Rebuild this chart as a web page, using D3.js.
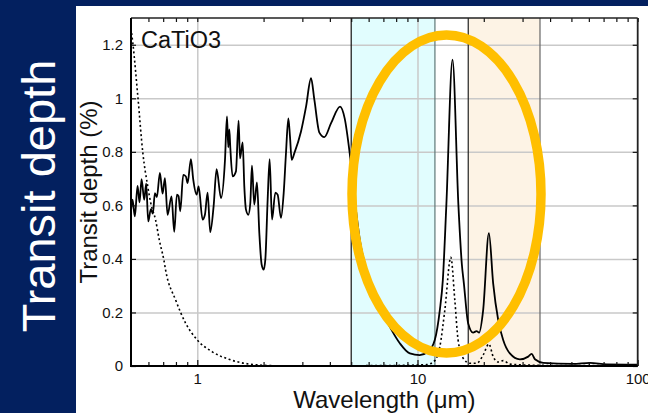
<!DOCTYPE html>
<html><head><meta charset="utf-8">
<script src="https://cdn.jsdelivr.net/npm/d3@7"></script>
<style>
html,body{margin:0;padding:0;background:#03205f;}
svg{display:block;font-family:"Liberation Sans",Arial,Helvetica,sans-serif;}
</style></head>
<body>
<svg id="c" width="648" height="413"></svg>
<script>
// ---- data ----
const solidWl = [0.50,0.508,0.5205,0.5355,0.5467,0.5583,0.5741,0.5862,0.5986,0.6155,0.6285,0.6418,0.6554,0.6764,0.6958,0.7129,0.7328,0.7639,0.7857,0.808,0.8222,0.8367,0.8635,0.8878,0.9035,0.9355,0.9587,0.9927,1.0137,1.057,1.083,1.114,1.145,1.186,1.224,1.281,1.336,1.364,1.383,1.398,1.412,1.447,1.498,1.540,1.563,1.607,1.635,1.664,1.705,1.741,1.771,1.815,1.866,1.913,1.960,2.002,2.037,2.087,2.131,2.184,2.262,2.317,2.399,2.468,2.528,2.591,2.636,2.683,2.759,2.958,3.118,3.285,3.402,3.585,3.777,4.050,4.450,4.67,4.92,5.19,5.47,6.07,6.74,7.48,8.31,9.23,10.24,11.17,11.98,12.63,13.03,13.52,14.42,15.34,15.90,16.24,16.98,17.89,18.54,19.05,19.87,21.10,22.06,23.25,24.50,26.27,29.17,31.82,32.98,34.15,37.24,50.8,60.7,72.3,100];
const solidVal = [0.578,0.621,0.559,0.673,0.611,0.698,0.621,0.681,0.540,0.586,0.569,0.646,0.631,0.721,0.644,0.702,0.565,0.634,0.501,0.640,0.634,0.578,0.714,0.708,0.683,0.773,0.696,0.640,0.671,0.547,0.565,0.648,0.500,0.596,0.735,0.627,0.770,0.932,0.817,0.884,0.817,0.708,0.727,0.917,0.776,0.835,0.671,0.584,0.565,0.609,0.748,0.603,0.686,0.497,0.379,0.360,0.398,0.621,0.773,0.547,0.648,0.640,0.553,0.646,0.795,0.925,0.857,0.770,0.795,0.876,0.969,1.075,0.994,0.872,0.855,0.907,0.969,0.925,0.796,0.62,0.471,0.321,0.222,0.147,0.085,0.047,0.041,0.053,0.097,0.209,0.32,0.60,1.144,0.60,0.38,0.309,0.16,0.125,0.13,0.125,0.209,0.496,0.309,0.172,0.097,0.047,0.025,0.035,0.045,0.025,0.012,0.008,0.012,0.006,0.005];

const dottedWl = [0.5,0.5097,0.537,0.566,0.596,0.615,0.6464,0.672,0.705,0.72,0.797,0.885,1.0,1.17,1.392,1.716,2.27,3.0,5.0,8.0,11.0,11.98,12.63,13.31,14.17,14.77,15.29,16.12,17.29,18.54,19.87,21.10,22.06,23.25,24.50,26.27,30,40,100];
const dottedVal = [1.26,1.206,1.007,0.795,0.67,0.608,0.546,0.471,0.396,0.353,0.247,0.160,0.097,0.053,0.025,0.0075,0.001,0.0005,0.001,0.002,0.005,0.02,0.072,0.209,0.406,0.247,0.097,0.029,0.01,0.01,0.041,0.082,0.035,0.015,0.02,0.007,0.004,0.002,0.001];

const bands = [{from:5, to:12, fill:"#e1fdfe", edgeL:"#111", edgeR:"#5d7777"},
               {from:17, to:36, fill:"#fdf3e5", edgeL:"#222", edgeR:"#666"}];

const yTicks = [0,0.2,0.4,0.6,0.8,1,1.2];
const yTickLabels = ["0","0.2","0.4","0.6","0.8","1","1.2"];
const xMajor = [1,10,100];
const xMajorLabels = ["1","10","100"];
const xMinor = [0.6,0.7,0.8,0.9,2,3,4,5,6,7,8,9,20,30,40,50,60,70,80,90];

const title = "CaTiO3";
const xLabel = "Wavelength (\u03bcm)";
const yLabel = "Transit depth (%)";
const bigLabel = "Transit depth";

// ---- layout ----
const svg = d3.select("#c");
const L=131, R=637.7, T=18, B=366;
const x = d3.scaleLog().domain([0.5,100]).range([L,R]);
const y = d3.scaleLinear().domain([0,1.3]).range([B,T]);

svg.append("rect").attr("x",0).attr("y",0).attr("width",648).attr("height",413).attr("fill","#03205f");
svg.append("rect").attr("x",76).attr("y",6).attr("width",572).attr("height",407).attr("fill","#fff");

// big white label
svg.append("text").attr("transform","translate(55,196) rotate(-90)")
  .attr("text-anchor","middle").attr("fill","#fff").attr("font-size",47).text(bigLabel);

// bands
bands.forEach(b=>{
  svg.append("rect").attr("x",x(b.from)).attr("y",T).attr("width",x(b.to)-x(b.from)).attr("height",B-T).attr("fill",b.fill);
});

// grid
const gy = svg.append("g").attr("transform",`translate(${L},0)`)
  .call(d3.axisLeft(y).tickValues(yTicks.slice(1)).tickSize(-(R-L)).tickFormat(""));
gy.select(".domain").remove();
gy.selectAll("line").attr("stroke","#c9c9c9").attr("stroke-width",1.5);
const gx = svg.append("g").attr("transform",`translate(0,${B})`)
  .call(d3.axisBottom(x).tickValues([1,10]).tickSize(-(B-T)).tickFormat(""));
gx.select(".domain").remove();
gx.selectAll("line").attr("stroke","#c9c9c9").attr("stroke-width",1.5);

// band edges
bands.forEach(b=>{
  svg.append("line").attr("x1",x(b.from)).attr("x2",x(b.from)).attr("y1",T).attr("y2",B).attr("stroke",b.edgeL).attr("stroke-width",1.2);
  svg.append("line").attr("x1",x(b.to)).attr("x2",x(b.to)).attr("y1",T).attr("y2",B).attr("stroke",b.edgeR).attr("stroke-width",1.2);
});

// lines
const line = d3.line().x(d=>x(d[0])).y(d=>y(d[1])).curve(d3.curveMonotoneX);
svg.append("path").datum(dottedWl.map((w,i)=>[w,dottedVal[i]]))
  .attr("d",line).attr("fill","none").attr("stroke","#000").attr("stroke-width",1.6).attr("stroke-dasharray","2,2.6");
svg.append("path").datum(solidWl.map((w,i)=>[w,solidVal[i]]))
  .attr("d",line).attr("fill","none").attr("stroke","#000").attr("stroke-width",1.8).attr("stroke-linejoin","round");

// axes ticks
function styleAxis(g){ g.select(".domain").remove(); g.selectAll("line").attr("stroke","#111").attr("stroke-width",1.2);
  g.selectAll("text").attr("fill","#111").attr("font-size",15).attr("font-family","'Liberation Sans',Arial,sans-serif"); }
const xb = svg.append("g").attr("transform",`translate(0,${B})`)
  .call(d3.axisBottom(x).tickValues(xMajor).tickSizeInner(-6).tickSizeOuter(0).tickPadding(10).tickFormat((d,i)=>xMajorLabels[i]));
styleAxis(xb);
xb.selectAll("text").attr("dy","0.71em").attr("y",7);
const xbm = svg.append("g").attr("transform",`translate(0,${B})`)
  .call(d3.axisBottom(x).tickValues(xMinor).tickSizeInner(-4).tickSizeOuter(0).tickFormat(""));
styleAxis(xbm);
const xt = svg.append("g").attr("transform",`translate(0,${T})`)
  .call(d3.axisTop(x).tickValues(xMajor.concat(xMinor)).tickSizeInner(-4).tickSizeOuter(0).tickFormat(""));
styleAxis(xt);
const yl = svg.append("g").attr("transform",`translate(${L},0)`)
  .call(d3.axisLeft(y).tickValues(yTicks).tickSizeInner(-5).tickSizeOuter(0).tickPadding(8).tickFormat((d,i)=>yTickLabels[i]));
styleAxis(yl);
const yr = svg.append("g").attr("transform",`translate(${R},0)`)
  .call(d3.axisRight(y).tickValues(yTicks).tickSizeInner(-5).tickSizeOuter(0).tickFormat(""));
styleAxis(yr);

// frame
svg.append("line").attr("x1",L).attr("x2",R).attr("y1",T).attr("y2",T).attr("stroke","#222").attr("stroke-width",1.5);
svg.append("line").attr("x1",R).attr("x2",R).attr("y1",T).attr("y2",B).attr("stroke","#222").attr("stroke-width",1.8);
svg.append("line").attr("x1",L).attr("x2",L).attr("y1",T).attr("y2",B+1).attr("stroke","#000").attr("stroke-width",2);
svg.append("line").attr("x1",L-1).attr("x2",R).attr("y1",B).attr("y2",B).attr("stroke","#000").attr("stroke-width",2);

// texts
svg.append("text").attr("x",141).attr("y",47.5).attr("font-size",23.5).attr("fill","#111").text(title);
svg.append("text").attr("x",(L+R)/2).attr("y",408).attr("text-anchor","middle").attr("font-size",24).attr("fill","#111").text(xLabel);
svg.append("text").attr("transform","translate(97,192) rotate(-90)").attr("text-anchor","middle").attr("font-size",24).attr("fill","#111").text(yLabel);

// highlight ellipse
svg.append("ellipse").attr("cx",446.5).attr("cy",194).attr("rx",94.5).attr("ry",159)
  .attr("fill","none").attr("stroke","#ffbf00").attr("stroke-width",9.5);
</script>
</body></html>
